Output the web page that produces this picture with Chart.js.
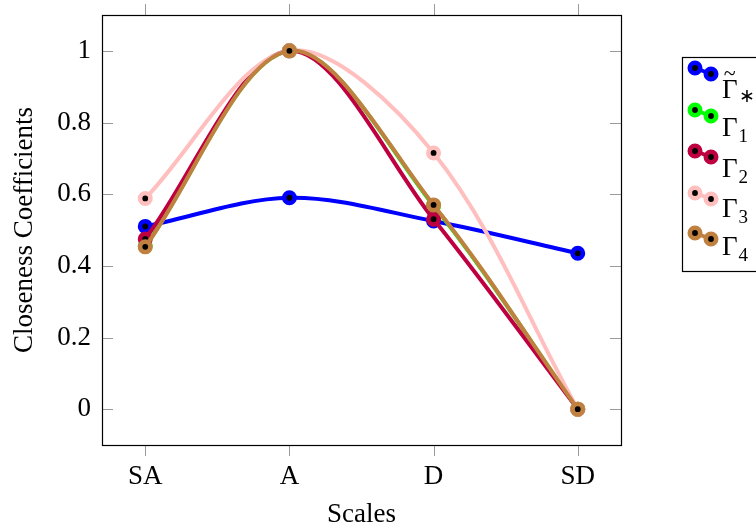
<!DOCTYPE html>
<html><head><meta charset="utf-8">
<script src="https://cdn.jsdelivr.net/npm/chart.js@4/dist/chart.umd.min.js"></script>
<style>html,body{margin:0;padding:0;background:#fff;overflow:hidden}#wrap{width:756px;height:531px;position:relative}</style>
</head><body><div id="wrap"><canvas id="c" width="756" height="531"></canvas></div>
<script>
const categories = ['SA', 'A', 'D', 'SD'];
const yTickValues = [0, 0.2, 0.4, 0.6, 0.8, 1];
const gammaStar = [0.51, 0.59, 0.525, 0.435];
const gamma1 = [0.455, 1, 0.568, 0];
const gamma2 = [0.475, 1, 0.53, 0];
const gamma3 = [0.588, 1, 0.715, 0];
const gamma4 = [0.453, 1, 0.57, 0];
const seriesLabels = ['Γ̃∗', 'Γ1', 'Γ2', 'Γ3', 'Γ4'];
const legendBase = ['Γ', 'Γ', 'Γ', 'Γ', 'Γ'];
const legendSub = ['∗', '1', '2', '3', '4'];
const legendTilde = [true, false, false, false, false];

const FONT = "'Liberation Serif', 'Times New Roman', serif";
const colors = ['rgb(0,0,255)', 'rgb(0,255,0)', 'rgb(191,0,64)', 'rgb(255,191,191)', 'rgb(191,128,64)'];
const seriesValues = [gammaStar, gamma1, gamma2, gamma3, gamma4];

const datasets = seriesValues.map((vals, k) => ({
  label: seriesLabels[k],
  data: vals.map((v, i) => ({x: i, y: v})),
  borderColor: colors[k],
  borderWidth: 4,
  tension: 0.33,
  pointRadius: 5.2,
  pointBorderWidth: 4.6,
  pointBackgroundColor: '#000',
  pointBorderColor: colors[k],
  order: 4 - k,
  clip: false
}));

const framePlugin = {
  id: 'frame',
  beforeDatasetsDraw(chart) {
    const {ctx, chartArea: a, scales} = chart;
    ctx.save();
    ctx.strokeStyle = '#9a9a9a';
    ctx.lineWidth = 1;
    const L = 11;
    ctx.beginPath();
    categories.forEach((c, i) => {
      const x = Math.round(scales.x.getPixelForValue(i)) + 0.5;
      ctx.moveTo(x, a.bottom); ctx.lineTo(x, a.bottom + L);
      ctx.moveTo(x, a.top); ctx.lineTo(x, a.top - L);
    });
    yTickValues.forEach(v => {
      const y = Math.round(scales.y.getPixelForValue(v)) + 0.5;
      ctx.moveTo(a.left, y); ctx.lineTo(a.left + L, y);
      ctx.moveTo(a.right, y); ctx.lineTo(a.right - L, y);
    });
    ctx.stroke();
    ctx.strokeStyle = '#000';
    ctx.lineWidth = 1.2;
    ctx.strokeRect(Math.round(a.left) + 0.5, Math.round(a.top) + 0.5, Math.round(a.right - a.left), Math.round(a.bottom - a.top));
    ctx.restore();
  },
  afterDraw(chart) {
    const ctx = chart.ctx;
    ctx.save();
    ctx.strokeStyle = '#000';
    ctx.lineWidth = 1.2;
    ctx.strokeRect(682.5, 57.5, 120, 214);
    const rowY = [68, 110, 151, 193, 233];
    const textOff = [30, 26, 26, 24, 22];
    for (let k = 0; k < 5; k++) {
      const y1 = rowY[k];
      const p1 = [695, y1], p2 = [711, y1 + 6];
      ctx.strokeStyle = colors[k];
      ctx.lineWidth = 4;
      ctx.beginPath(); ctx.moveTo(p1[0], p1[1]); ctx.lineTo(p2[0], p2[1]); ctx.stroke();
      [p1, p2].forEach(p => {
        ctx.beginPath();
        ctx.arc(p[0], p[1], 5.2, 0, Math.PI * 2);
        ctx.fillStyle = '#000';
        ctx.fill();
        ctx.lineWidth = 4.6;
        ctx.strokeStyle = colors[k];
        ctx.stroke();
      });
      const base = y1 + textOff[k];
      ctx.fillStyle = '#000';
      ctx.textBaseline = 'alphabetic';
      ctx.textAlign = 'left';
      ctx.font = '27px ' + FONT;
      const gx = 722;
      ctx.fillText(legendBase[k], gx, base);
      const gw = ctx.measureText(legendBase[k]).width;
      if (legendTilde[k]) {
        ctx.font = '22px ' + FONT;
        ctx.textAlign = 'center';
        ctx.textBaseline = 'middle';
        ctx.fillText('~', gx + gw / 2, base - 24);
        ctx.textAlign = 'left';
        ctx.textBaseline = 'alphabetic';
      }
      ctx.font = '19px ' + FONT;
      ctx.fillText(legendSub[k], gx + gw + 1, base + (legendTilde[k] ? 4 : 6));
    }
    ctx.restore();
  }
};

new Chart(document.getElementById('c'), {
  type: 'line',
  data: {datasets},
  options: {
    responsive: false,
    animation: false,
    events: [],
    layout: {padding: {top: 15, right: 135, left: 0, bottom: 0}},
    plugins: {legend: {display: false}, tooltip: {enabled: false}},
    scales: {
      x: {
        type: 'linear', min: -0.3, max: 3.3,
        afterBuildTicks: s => { s.ticks = categories.map((c, i) => ({value: i})); },
        afterFit: s => { s.height = 86; s.paddingLeft = 0; s.paddingRight = 0; },
        grid: {display: false, drawTicks: false},
        border: {display: false},
        ticks: {padding: 16, color: '#000', font: {family: FONT, size: 27}, callback: v => categories[v], maxRotation: 0, autoSkip: false},
        title: {display: true, text: 'Scales', color: '#000', font: {family: FONT, size: 27}, padding: {top: 0, bottom: 0}}
      },
      y: {
        min: -0.1, max: 1.1,
        afterBuildTicks: s => { s.ticks = yTickValues.map(v => ({value: v})); },
        afterFit: s => { s.width = 102; s.paddingTop = 0; s.paddingBottom = 0; },
        grid: {display: false, drawTicks: false},
        border: {display: false},
        ticks: {padding: 11, color: '#000', font: {family: FONT, size: 27}, callback: v => String(Number(v.toFixed(1))), autoSkip: false},
        title: {display: true, text: 'Closeness Coefficients', color: '#000', font: {family: FONT, size: 27}, padding: {top: 9, bottom: 0}}
      }
    }
  },
  plugins: [framePlugin]
});
</script></body></html>
